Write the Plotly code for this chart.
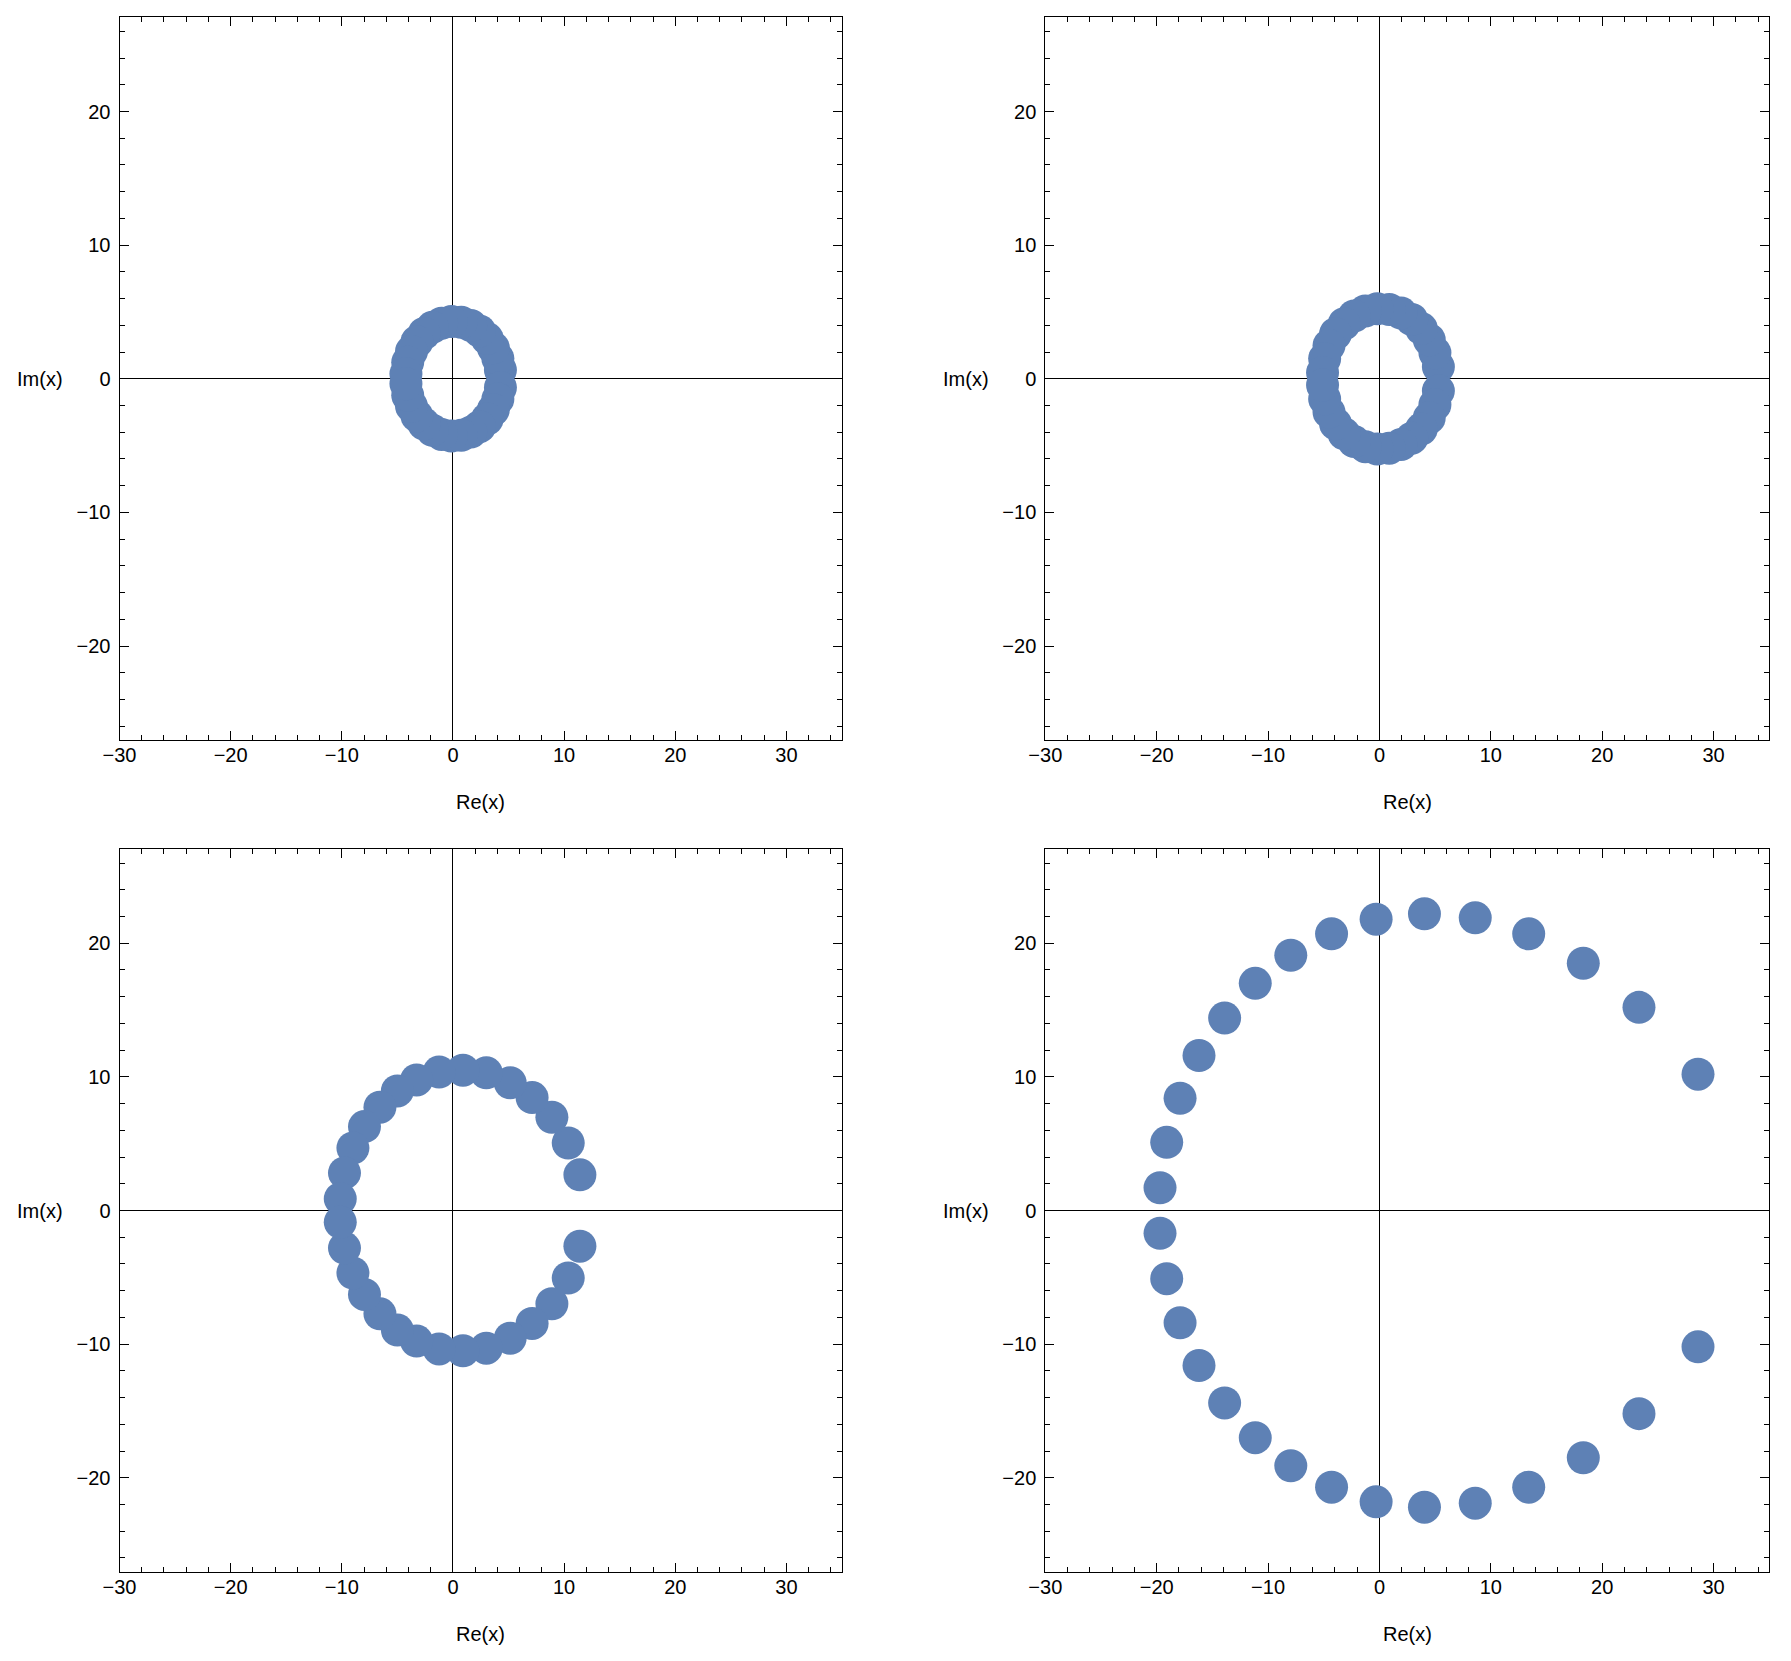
import plotly.graph_objects as go
from plotly.subplots import make_subplots

# ---------------- data ----------------
# upper half of each point set; lower half is the mirror (complex conjugate)
p1_re = [4.27, 4.04, 3.63, 3.08, 2.39, 1.60, 0.74, -0.14, -1.02, -1.85, -2.60, -3.24, -3.73, -4.07, -4.23]
p1_im = [0.66, 1.52, 2.32, 3.01, 3.58, 3.99, 4.23, 4.28, 4.16, 3.85, 3.39, 2.78, 2.05, 1.24, 0.37]

p2_re = [5.29, 4.98, 4.47, 3.76, 2.90, 1.93, 0.88, -0.20, -1.27, -2.27, -3.17, -3.94, -4.53, -4.92, -5.11]
p2_im = [0.90, 1.95, 2.92, 3.76, 4.44, 4.92, 5.19, 5.25, 5.08, 4.70, 4.12, 3.37, 2.49, 1.51, 0.47]

p3_re = [11.42, 10.37, 8.90, 7.12, 5.15, 3.00, 0.90, -1.25, -3.27, -5.00, -6.57, -7.96, -9.00, -9.76, -10.14]
p3_im = [2.67, 5.05, 6.98, 8.45, 9.56, 10.30, 10.50, 10.36, 9.77, 8.95, 7.73, 6.28, 4.68, 2.81, 0.88]

p4_re = [28.6, 23.3, 18.3, 13.4, 8.6, 4.04, -0.3, -4.3, -7.96, -11.15, -13.9, -16.2, -17.9, -19.1, -19.7]
p4_im = [10.2, 15.2, 18.5, 20.7, 21.9, 22.2, 21.8, 20.7, 19.1, 17.0, 14.4, 11.6, 8.4, 5.1, 1.7]

x_ticks = [-30, -20, -10, 0, 10, 20, 30]
y_ticks = [-20, -10, 0, 10, 20]
x_range = [-30, 35]
y_range = [-27.05, 27.05]

# ---------------- figure ----------------
OFF = 8                      # page body margin
W, H = 1791 - 2 * OFF, 1661 - 2 * OFF
COLOR = "#5E81B5"
FONT = "Liberation Sans, Arial, sans-serif"


def px_x(p):
    return (p - OFF) / W


def px_y(p):
    return 1 - (p - OFF) / H


fig = make_subplots(rows=2, cols=2)

sets = [(p1_re, p1_im), (p2_re, p2_im), (p3_re, p3_im), (p4_re, p4_im)]
for i, (re, im) in enumerate(sets):
    r, c = i // 2 + 1, i % 2 + 1
    xs = list(re) + list(re)
    ys = list(im) + [-v for v in im]
    fig.add_trace(
        go.Scatter(x=xs, y=ys, mode="markers",
                   marker=dict(size=33, color=COLOR, line=dict(width=0)),
                   showlegend=False, hoverinfo="skip"),
        row=r, col=c)

col_dom = [[px_x(119.5), px_x(842.0)], [px_x(1045.3), px_x(1769.3)]]
row_dom = [[px_y(740.3), px_y(17.3)], [px_y(1572.0), px_y(849.0)]]

axis_common = dict(
    automargin=False,
    showgrid=False,
    zeroline=True, zerolinecolor="black", zerolinewidth=1,
    showline=True, linecolor="black", linewidth=1, mirror="ticks",
    ticks="inside", ticklen=9, tickwidth=1, tickcolor="black",
    minor=dict(ticks="inside", ticklen=5, tickwidth=1, tickcolor="black", dtick=2, showgrid=False),
    tickfont=dict(family=FONT, size=20, color="black"),
    fixedrange=True,
)

for i in range(4):
    r, c = i // 2, i % 2
    fig.update_xaxes(range=x_range, tickvals=x_ticks, domain=col_dom[c],
                     ticklabelstandoff=-3, **axis_common, row=r + 1, col=c + 1)
    fig.update_yaxes(range=y_range, tickvals=y_ticks, domain=row_dom[r],
                     ticklabelstandoff=4, **axis_common, row=r + 1, col=c + 1)

annotations = []
im_x = [px_x(40.0), px_x(966.3)]
re_y = [px_y(802.0), px_y(1633.7)]
for i in range(4):
    r, c = i // 2, i % 2
    suffix = "" if i == 0 else str(i + 1)
    annotations.append(dict(text="Im(x)", xref="paper", yref="y" + suffix, x=im_x[c], y=0,
                            showarrow=False, xanchor="center", yanchor="middle",
                            font=dict(family=FONT, size=20, color="black")))
    annotations.append(dict(text="Re(x)", xref="x" + suffix + " domain", yref="paper", x=0.5, y=re_y[r],
                            showarrow=False, xanchor="center", yanchor="middle",
                            font=dict(family=FONT, size=20, color="black")))

fig.update_layout(
    width=W, height=H,
    margin=dict(l=0, r=0, t=0, b=0, autoexpand=False),
    paper_bgcolor="white", plot_bgcolor="white",
    annotations=annotations,
)

fig.write_html("out.html")
